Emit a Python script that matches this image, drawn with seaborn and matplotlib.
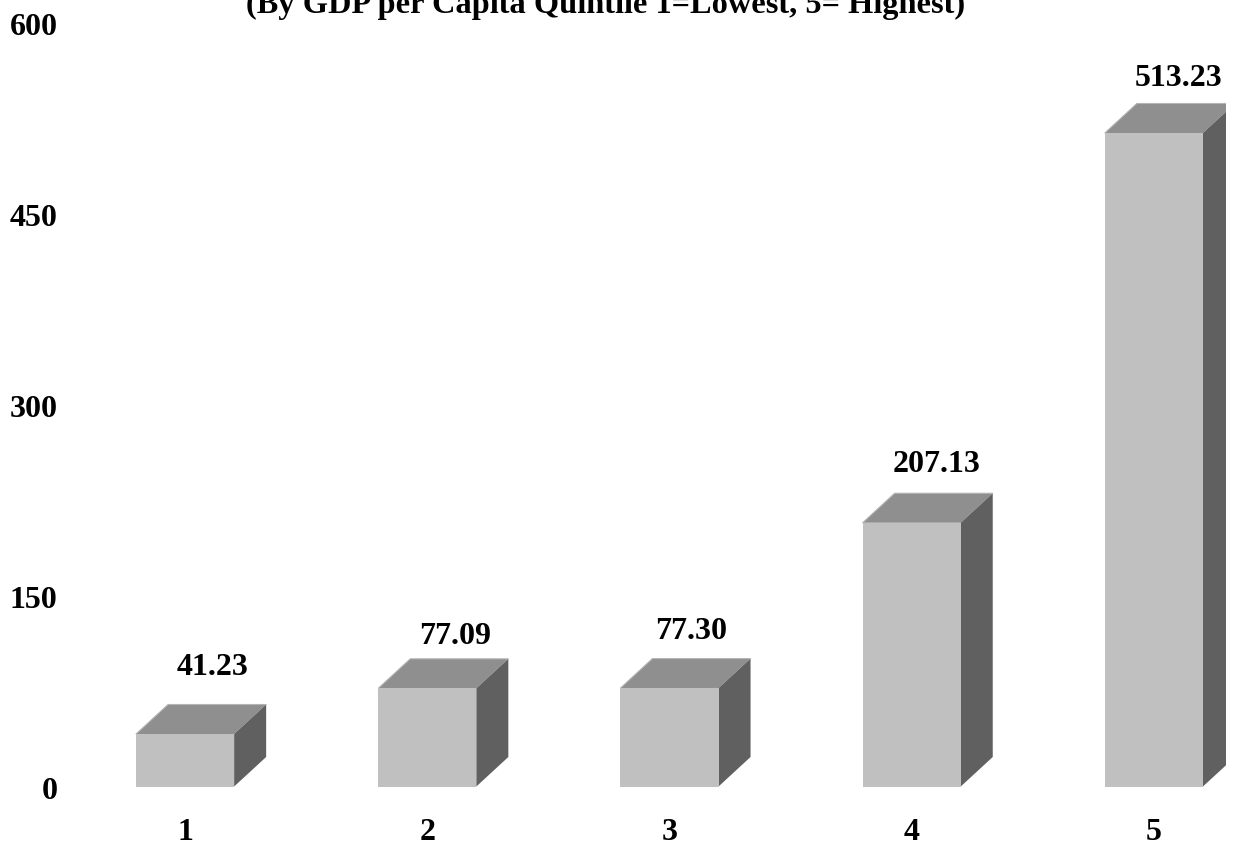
import matplotlib
matplotlib.use("Agg")
import matplotlib.pyplot as plt
from matplotlib.transforms import ScaledTranslation
import pandas as pd
import seaborn as sns

quintiles = ["1", "2", "3", "4", "5"]
values = [41.23, 77.09, 77.30, 207.13, 513.23]
value_labels = ["41.23", "77.09", "77.30", "207.13", "513.23"]
y_ticks = [0, 150, 300, 450, 600]
subtitle = "(By GDP per Capita Quintile 1=Lowest, 5= Highest)"

# label offsets from the front top centre of each bar, in pixels
label_dx = [27.5, 28, 22, 25, 25]
label_dy = [67, 51.5, 56.5, 58.5, 54]

W, H = 1238, 851
FRONT, TOP, SIDE = "#c0c0c0", "#8f8f8f", "#606060"

sns.set_theme(style="white")
plt.rcParams["font.family"] = ["Liberation Serif", "DejaVu Serif"]
plt.rcParams["font.weight"] = "bold"

fig = plt.figure(figsize=(W / 100, H / 100), dpi=100)
# axes in pixels: y=0 sits at 786.5, y=600 at 22.5, plot area stops at x=1226
ax = fig.add_axes([64 / W, 1 - 786.5 / H, (1226 - 64) / W, 764 / H])

df = pd.DataFrame({"quintile": quintiles, "value": values})
bar_w = 0.405
sns.barplot(data=df, x="quintile", y="value", color=FRONT, saturation=1, width=bar_w,
            linewidth=0, ax=ax, zorder=3)

ax.set_xlim(-0.5, -0.5 + (1226 - 64) / 242.2)
ax.set_ylim(0, 600)

# fake 3d: top and side faces
dx = 32 / 242.2
dy = 29.5 / (764 / 600)
for i, v in enumerate(values):
    l, r = i - bar_w / 2, i + bar_w / 2
    ax.fill([l, r, r + dx, l + dx], [v, v, v + dy, v + dy], color=TOP, lw=0, zorder=2)
    ax.fill([r, r + dx, r + dx, r], [0, dy, v + dy, v], color=SIDE, lw=0, zorder=2)
    ax.plot([l, l + dx, r + dx], [v, v + dy, v + dy], color="#b4b4b4", lw=0.8, zorder=2.5)
    ax.annotate(value_labels[i], (i, v), xytext=(label_dx[i] * 0.72, label_dy[i] * 0.72),
                textcoords="offset points", ha="center", va="center", fontsize=23, fontweight="bold", color="black")

sns.despine(ax=ax, left=True, bottom=True)
ax.set_xlabel("")
ax.set_ylabel("")
ax.set_yticks(y_ticks)
ax.set_yticklabels([str(t) for t in y_ticks])
ax.tick_params(axis="y", length=0, pad=4.5, labelsize=23, labelcolor="black")
ax.tick_params(axis="x", length=0, pad=23, labelsize=23, labelcolor="black")
shift = ScaledTranslation(0, -0.8 / 72, fig.dpi_scale_trans)
for lab in ax.get_yticklabels():
    lab.set_transform(lab.get_transform() + shift)
    lab.set_fontweight("bold")
for lab in ax.get_xticklabels():
    lab.set_fontweight("bold")
ax.patch.set_alpha(0)

# the heading runs off the top of the picture, same as the source
fig.text(606 / W, 1 - 13 / H, subtitle, ha="center", va="baseline", fontsize=23.3, fontweight="bold", color="black")

fig.savefig("out.png", dpi=100)
